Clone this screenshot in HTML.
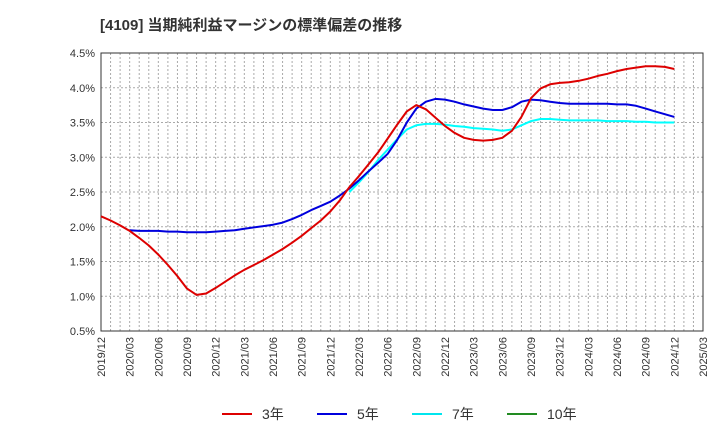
<!DOCTYPE html>
<html><head><meta charset="utf-8"><style>
body{margin:0;background:#fff;font-family:"Liberation Sans","Noto Sans CJK JP",sans-serif}
</style></head><body>
<svg id="c" width="720" height="440" xmlns="http://www.w3.org/2000/svg" font-family="Liberation Sans, Noto Sans CJK JP, sans-serif">
<text x="100" y="30" font-size="15" font-weight="bold" fill="#333">[4109]  当期純利益マージンの標準偏差の推移</text>
<g id="grid"></g><g id="axes"></g><g id="series"></g>
<g id="legend"></g>
</svg>
<script>
const yTicks=[0.5,1.0,1.5,2.0,2.5,3.0,3.5,4.0,4.5];
const xLabels=["2019/12","2020/03","2020/06","2020/09","2020/12","2021/03","2021/06","2021/09","2021/12","2022/03","2022/06","2022/09","2022/12","2023/03","2023/06","2023/09","2023/12","2024/03","2024/06","2024/09","2024/12","2025/03"];
const s3=[2.15,2.09,2.02,1.94,1.84,1.73,1.60,1.45,1.29,1.11,1.02,1.04,1.12,1.21,1.30,1.38,1.45,1.52,1.60,1.68,1.77,1.87,1.98,2.09,2.22,2.38,2.57,2.73,2.90,3.07,3.27,3.47,3.66,3.75,3.69,3.57,3.45,3.35,3.28,3.25,3.24,3.25,3.28,3.38,3.58,3.85,3.99,4.05,4.07,4.08,4.10,4.13,4.17,4.20,4.24,4.27,4.29,4.31,4.31,4.30,4.27];
const s5=[null,null,null,1.95,1.94,1.94,1.94,1.93,1.93,1.92,1.92,1.92,1.93,1.94,1.95,1.97,1.99,2.01,2.03,2.06,2.11,2.17,2.24,2.30,2.36,2.45,2.55,2.67,2.80,2.92,3.05,3.25,3.50,3.70,3.80,3.84,3.83,3.80,3.76,3.73,3.70,3.68,3.68,3.72,3.80,3.83,3.82,3.80,3.78,3.77,3.77,3.77,3.77,3.77,3.76,3.76,3.74,3.70,3.66,3.62,3.58];
const s7=[null,null,null,null,null,null,null,null,null,null,null,null,null,null,null,null,null,null,null,null,null,null,null,null,null,null,2.50,2.64,2.79,2.96,3.11,3.26,3.40,3.46,3.48,3.48,3.47,3.45,3.44,3.42,3.41,3.40,3.38,3.40,3.46,3.52,3.55,3.55,3.54,3.53,3.53,3.53,3.53,3.52,3.52,3.52,3.51,3.51,3.50,3.50,3.50];
const X0=101,X1=703,Y0=53,Y1=331,NM=63;
const xs=i=>X0+(X1-X0)*i/NM, ys=v=>Y1-(v-0.5)/4*(Y1-Y0);
const NS="http://www.w3.org/2000/svg";
function mk(p,t,a){const e=document.createElementNS(NS,t);for(const k in a)e.setAttribute(k,a[k]);p.appendChild(e);return e;}
const g=document.getElementById('grid'),ax=document.getElementById('axes'),se=document.getElementById('series'),lg=document.getElementById('legend');
for(let i=1;i<NM;i++){const l=mk(g,'line',{x1:xs(i),x2:xs(i),y1:Y0,y2:Y1,stroke:'#aaa','stroke-width':1,'stroke-dasharray':'2,2'});

}
yTicks.forEach(v=>{const y=ys(v);if(v>0.5&&v<4.5){const l=mk(g,'line',{x1:X0,x2:X1,y1:y,y2:y,stroke:'#aaa','stroke-width':1,'stroke-dasharray':'2,2'});

}
const t=mk(ax,'text',{x:X0-6,y:y+4,'text-anchor':'end','font-size':11,fill:'#333'});t.textContent=v.toFixed(1)+'%';

});
xLabels.forEach((s,i)=>{const x=xs(i*3);const t=mk(ax,'text',{transform:`translate(${x+4},337) rotate(-90)`,'text-anchor':'end','font-size':11,fill:'#333'});t.textContent=s;

});
const fr=mk(ax,'rect',{x:X0,y:Y0,width:X1-X0,height:Y1-Y0,fill:'none',stroke:'#333','stroke-width':1});


function line(arr,col,name){let d='';arr.forEach((v,i)=>{if(v==null)return;d+=(d?'L':'M')+xs(i).toFixed(1)+','+ys(v).toFixed(1);});
const p=mk(se,'path',{d:d,fill:'none',stroke:col,'stroke-width':2,'stroke-linejoin':'round'});

}
line(s7,'#00ffff','series-7y');line(s5,'#0000dd','series-5y');line(s3,'#dd0000','series-3y');
const leg=[['3年','#dd0000',222],['5年','#0000dd',317],['7年','#00e5ee',412],['10年','#228b22',507]];
leg.forEach(([n,c,x])=>{const l=mk(lg,'line',{x1:x,x2:x+30,y1:414,y2:414,stroke:c,'stroke-width':2});


const t=mk(lg,'text',{x:x+40,y:419,'font-size':14,fill:'#333'});t.textContent=n;

});
</script>
</body></html>
